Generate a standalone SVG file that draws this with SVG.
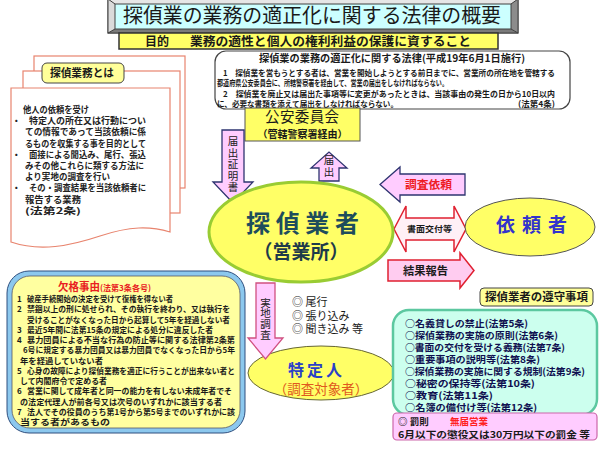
<svg xmlns="http://www.w3.org/2000/svg" width="600" height="450" viewBox="0 0 600 450">
<style>
text{font-family:"Noto Sans CJK JP","Noto Sans",sans-serif;fill:#1a1a1a}
.b{font-weight:bold}
.s8{font-size:8px;font-weight:bold}
.s86{font-size:8.6px;font-weight:bold;fill:#222}
.it{font-size:9.5px;font-weight:bold;fill:#101050}
.page{fill:#fff;stroke:#E8846E;stroke-width:1.2}
.pk{fill:#FFCCFF;stroke:#2E3470;stroke-width:1.3}
.pr{fill:#FFCCF0;stroke:#E02030;stroke-width:1.5}
.yl{fill:#FFFF66}
.lbl{fill:#FFFF99;stroke:#444;stroke-width:1}
.vt{font-size:10.5px;text-anchor:middle;fill:#222;writing-mode:vertical-rl}
.mid{text-anchor:middle}
</style>
<rect width="600" height="450" fill="#fff"/>

<g id="title">
<rect x="108" y="-1" width="410" height="34" fill="#C8C8C8" stroke="#404040"/>
<polygon points="108,-1 518,-1 511,4 115,4" fill="#E6E6E6"/>
<polygon points="108,-1 115,4 115,29 108,33" fill="#DADADA"/>
<polygon points="518,-1 518,33 511,29 511,4" fill="#8C8C8C"/>
<polygon points="108,33 518,33 511,29 115,29" fill="#7A7A7A"/>
<rect x="115" y="4" width="396" height="25" fill="#CCFFFF" stroke="#404040"/>
<line x1="108" y1="-1" x2="115" y2="4" stroke="#404040"/>
<line x1="518" y1="-1" x2="511" y2="4" stroke="#404040"/>
<line x1="108" y1="33" x2="115" y2="29" stroke="#404040"/>
<line x1="518" y1="33" x2="511" y2="29" stroke="#404040"/>
<rect x="108" y="-1" width="410" height="34" fill="none" stroke="#404040"/>
<text x="123" y="22.5" font-size="20" textLength="378" lengthAdjust="spacingAndGlyphs">探偵業の業務の適正化に関する法律の概要</text>
</g>

<g id="purpose">
<rect x="119" y="33" width="379" height="16" fill="#FFFF66" stroke="#333" stroke-width="1.5"/>
<text x="145" y="46.2" font-size="12" class="b" textLength="24" lengthAdjust="spacingAndGlyphs">目的</text>
<text x="190" y="46.2" font-size="12.5" class="b" textLength="281" lengthAdjust="spacingAndGlyphs">業務の適性と個人の権利利益の保護に資すること</text>
</g>

<g id="law">
<rect x="215" y="51" width="355" height="58" rx="11" fill="#fff" stroke="#444" stroke-width="1.2"/>
<text x="259" y="61.6" font-size="10" class="b" textLength="266" lengthAdjust="spacingAndGlyphs">探偵業の業務の適正化に関する法律(平成19年6月1日施行)</text>
<text x="223" y="76" class="s8" textLength="332" lengthAdjust="spacingAndGlyphs">1　探偵業を営もうとする者は、営業を開始しようとする前日までに、営業所の所在地を管轄する</text>
<text x="217" y="86" class="s8" textLength="231" lengthAdjust="spacingAndGlyphs">都道府県公安委員会に、所轄警察署を経由して、営業の届出をしなければならない。</text>
<text x="223" y="97" class="s8" textLength="332" lengthAdjust="spacingAndGlyphs">2　探偵業を廃止又は届出た事項等に変更があったときは、当該事由の発生の日から10日以内</text>
<text x="217" y="106.5" class="s8" textLength="181" lengthAdjust="spacingAndGlyphs">に、必要な書類を添えて届出をしなければならない。</text>
<text x="518" y="106.5" class="s8" textLength="37" lengthAdjust="spacingAndGlyphs">(法第4条)</text>
</g>

<g id="gyomu">
<rect x="34" y="56" width="151" height="132" class="page"/>
<rect x="23" y="71" width="157" height="142" class="page"/>
<path d="M11,88 H170 V232 C150,226 130,226 100,236 C70,246 40,252 11,242 Z" class="page"/>
<rect x="42" y="63" width="82" height="20" rx="5" class="lbl"/>
<text x="50" y="77" font-size="11" class="b" textLength="64" lengthAdjust="spacingAndGlyphs">探偵業務とは</text>
<text x="23" y="113" class="s86" textLength="66" lengthAdjust="spacingAndGlyphs">他人の依頼を受け</text>
<text x="12" y="124.2" class="s86">・</text>
<text x="29" y="124.2" class="s86" textLength="117" lengthAdjust="spacingAndGlyphs">特定人の所在又は行動につい</text>
<text x="25" y="135.4" class="s86" textLength="121" lengthAdjust="spacingAndGlyphs">ての情報であって当該依頼に係</text>
<text x="25" y="146.6" class="s86" textLength="121" lengthAdjust="spacingAndGlyphs">るものを収集する事を目的として</text>
<text x="12" y="157.8" class="s86">・</text>
<text x="29" y="157.8" class="s86" textLength="117" lengthAdjust="spacingAndGlyphs">面接による聞込み、尾行、張込</text>
<text x="25" y="169" class="s86" textLength="119" lengthAdjust="spacingAndGlyphs">みその他これらに類する方法に</text>
<text x="25" y="180.2" class="s86" textLength="85" lengthAdjust="spacingAndGlyphs">より実地の調査を行い</text>
<text x="12" y="191.4" class="s86">・</text>
<text x="29" y="191.4" class="s86" textLength="117" lengthAdjust="spacingAndGlyphs">その・調査結果を当該依頼者に</text>
<text x="25" y="202.6" class="s86" textLength="56" lengthAdjust="spacingAndGlyphs">報告する業務</text>
<text x="25" y="213.8" class="s86" textLength="56" lengthAdjust="spacingAndGlyphs">(法第2条)</text>
</g>

<g id="koan">
<rect x="245" y="108" width="115" height="33" class="yl" stroke="#555" stroke-width="1"/>
<text x="265" y="122" font-size="14.5" textLength="74" lengthAdjust="spacing">公安委員会</text>
<text x="302.5" y="137.5" font-size="10" class="b mid">（管轄警察署経由）</text>
</g>

<g id="connectors">
<path d="M222,130 H244 V182 H253 L233,203 L213,182 H222 Z" class="pk"/>
<text x="233" y="165" class="vt" letter-spacing="1">届出証明書</text>
<path d="M319,181 V168 H311 L329,152 L347,168 H339 V181 Z" class="pk"/>
<text x="329" y="166.5" class="vt" font-size="10" letter-spacing="1">届出</text>
<path d="M380,184.5 L400,167 V174 H465 V195 H400 V202 Z" class="pk"/>
<text x="405" y="188.5" font-size="11.5" class="b" style="fill:#EE1C25" textLength="47" lengthAdjust="spacingAndGlyphs">調査依頼</text>
<path d="M394,229 L406,206 V218 H454 V206 L466,229 L454,252 V240 H406 V252 Z" fill="#FFF0F6" stroke="#E02030" stroke-width="1.5"/>
<text x="407" y="231.5" font-size="8.5" class="b" textLength="45" lengthAdjust="spacingAndGlyphs">書面交付等</text>
<path d="M388,260 H460 V253 L474,270.5 L460,288 V281 H388 Z" class="pr"/>
<text x="403" y="275" font-size="11" class="b" textLength="45" lengthAdjust="spacingAndGlyphs">結果報告</text>
</g>

<g id="tanteigyosha">
<ellipse cx="301" cy="232" rx="92" ry="50" class="yl" stroke="#99CC33" stroke-width="3"/>
<text x="246" y="231.5" font-size="24" class="b" style="fill:#1E4D5C" textLength="113" lengthAdjust="spacing">探偵業者</text>
<text x="301" y="258.5" font-size="19" class="b mid" style="fill:#1E3A4A">（営業所）</text>
</g>

<g id="iraisha">
<ellipse cx="530" cy="227" rx="65" ry="29" class="yl" stroke="#555" stroke-width="1"/>
<text x="496" y="232" font-size="19" class="b" style="fill:#3333CC" textLength="71" lengthAdjust="spacing">依頼者</text>
</g>

<g id="tokuteinin">
<ellipse cx="321" cy="373" rx="73" ry="27" class="yl" stroke="#666633" stroke-width="1"/>
<text x="288" y="375.5" font-size="16" class="b" style="fill:#2A3FC8" textLength="54" lengthAdjust="spacing">特定人</text>
<text x="321" y="394" font-size="13.5" class="mid" style="fill:#E05A1E">（調査対象者）</text>
</g>

<g id="jitchi">
<path d="M256,283 H275 V338 H283 L265.5,359 L248,338 H256 Z" fill="#FFCCFF" stroke="#D05080" stroke-width="1.3"/>
<text x="265.5" y="319" class="vt" letter-spacing="0.3">実地調査</text>
<text x="292" y="306" font-size="11">◎ 尾行</text>
<text x="292" y="319.5" font-size="11">◎ 張り込み</text>
<text x="292" y="333" font-size="11">◎ 聞き込み 等</text>
</g>

<g id="kekkaku">
<rect x="7" y="271" width="238" height="162" rx="22" fill="#8CC8EE" stroke="#2F4F7F" stroke-width="1"/>
<rect x="12" y="276" width="228" height="152" rx="18" fill="#FFFFA0" stroke="#556" stroke-width="0.8"/>
<text x="58" y="291" font-size="11" class="b" style="fill:#E8201F" textLength="42" lengthAdjust="spacingAndGlyphs">欠格事由</text>
<text x="100" y="290.5" font-size="8" class="b" style="fill:#E8201F" textLength="51" lengthAdjust="spacingAndGlyphs">(法第3条各号)</text>
<text x="17" y="302" class="s8">1</text>
<text x="27" y="302" class="s8" textLength="146" lengthAdjust="spacingAndGlyphs">破産手続開始の決定を受けて復権を得ない者</text>
<text x="17" y="312.25" class="s8">2</text>
<text x="27" y="312.25" class="s8" textLength="203" lengthAdjust="spacingAndGlyphs">禁錮以上の刑に処せられ、その執行を終わり、又は執行を</text>
<text x="27" y="322.5" class="s8" textLength="203" lengthAdjust="spacingAndGlyphs">受けることがなくなった日から起算して5年を経過しない者</text>
<text x="17" y="332.75" class="s8">3</text>
<text x="27" y="332.75" class="s8" textLength="186" lengthAdjust="spacingAndGlyphs">最近5年間に法第15条の規定による処分に違反した者</text>
<text x="17" y="343" class="s8">4</text>
<text x="27" y="343" class="s8" textLength="208" lengthAdjust="spacingAndGlyphs">暴力団員による不当な行為の防止等に関する法律第2条第</text>
<text x="23" y="353.25" class="s8" textLength="212" lengthAdjust="spacingAndGlyphs">6号に規定する暴力団員又は暴力団員でなくなった日から5年</text>
<text x="20" y="363.5" class="s8" textLength="83" lengthAdjust="spacingAndGlyphs">年を経過していない者</text>
<text x="17" y="373.75" class="s8">5</text>
<text x="27" y="373.75" class="s8" textLength="208" lengthAdjust="spacingAndGlyphs">心身の故障により探偵業務を適正に行うことが出来ない者と</text>
<text x="20" y="384" class="s8" textLength="87" lengthAdjust="spacingAndGlyphs">して内閣府令で定める者</text>
<text x="17" y="394.25" class="s8">6</text>
<text x="27" y="394.25" class="s8" textLength="205" lengthAdjust="spacingAndGlyphs">営業に関して成年者と同一の能力を有しない未成年者でそ</text>
<text x="20" y="404.5" class="s8" textLength="202" lengthAdjust="spacingAndGlyphs">の法定代理人が前各号又は次号のいずれかに該当する者</text>
<text x="17" y="414.75" class="s8">7</text>
<text x="27" y="414.75" class="s8" textLength="208" lengthAdjust="spacingAndGlyphs">法人でその役員のうち第1号から第5号までのいずれかに該</text>
<text x="20" y="425" class="s8" textLength="90" lengthAdjust="spacingAndGlyphs">当する者があるもの</text>
</g>

<g id="junshu">
<rect x="480" y="288" width="113" height="18" rx="4" class="lbl" stroke="#333"/>
<text x="485" y="301" font-size="11" class="b" textLength="103" lengthAdjust="spacingAndGlyphs">探偵業者の遵守事項</text>
<rect x="393" y="310" width="204" height="105" rx="16" fill="#CCFFEE" stroke="#5CC8A0" stroke-width="2.5"/>
<text x="405" y="326.5" class="it" textLength="123" lengthAdjust="spacingAndGlyphs">○名義貸しの禁止(法第5条)</text>
<text x="405" y="338.5" class="it" textLength="153" lengthAdjust="spacingAndGlyphs">○探偵業務の実施の原則(法第6条)</text>
<text x="405" y="350.5" class="it" textLength="160" lengthAdjust="spacingAndGlyphs">○書面の交付を受ける義務(法第7条)</text>
<text x="405" y="362.5" class="it" textLength="135" lengthAdjust="spacingAndGlyphs">○重要事項の説明等(法第8条)</text>
<text x="405" y="374.5" class="it" textLength="180" lengthAdjust="spacingAndGlyphs">○探偵業務の実施に関する規制(法第9条)</text>
<text x="405" y="386.5" class="it" textLength="130" lengthAdjust="spacingAndGlyphs">○秘密の保持等(法第10条)</text>
<text x="405" y="398.5" class="it" textLength="88" lengthAdjust="spacingAndGlyphs">○教育(法第11条)</text>
<text x="405" y="410.5" class="it" textLength="132" lengthAdjust="spacingAndGlyphs">○名簿の備付け等(法第12条)</text>
</g>

<g id="bassoku">
<rect x="393" y="413" width="204" height="27" rx="4" fill="#FFCCFF" stroke="#CC66AA" stroke-width="1.2"/>
<text x="398" y="424.5" font-size="9.5" class="b">◎ 罰則</text>
<text x="450" y="424.5" font-size="9.5" class="b" style="fill:#FF2020">無届営業</text>
<text x="398" y="437.5" font-size="9.5" class="b" textLength="192" lengthAdjust="spacingAndGlyphs">6月以下の懲役又は30万円以下の罰金 等</text>
</g>
</svg>
